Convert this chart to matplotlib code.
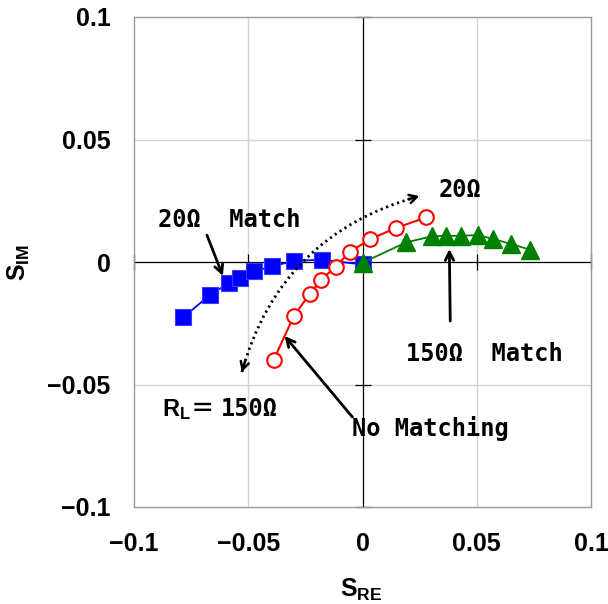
import numpy as np
import matplotlib
matplotlib.use('Agg')
import matplotlib.pyplot as plt
from matplotlib.path import Path
from matplotlib.patches import PathPatch

plt.rcParams['mathtext.fontset'] = 'custom'
plt.rcParams['mathtext.bf'] = 'Liberation Sans:bold'
plt.rcParams['mathtext.rm'] = 'Liberation Sans:bold'
plt.rcParams['mathtext.it'] = 'Liberation Sans:bold'

JP = ['DejaVu Sans Mono', 'Noto Sans CJK JP']

# ---- data ----
match20_re = [-0.0785, -0.0668, -0.0585, -0.0537, -0.0476, -0.0394, -0.0300, -0.0176, 0.0]
match20_im = [-0.0226, -0.0135, -0.0086, -0.0065, -0.0038, -0.0018, 0.0005, 0.0009, -0.0010]

nomatch_re = [-0.0389, -0.0300, -0.0231, -0.0180, -0.0118, -0.0054, 0.0035, 0.0147, 0.0278]
nomatch_im = [-0.0400, -0.0219, -0.0131, -0.0072, -0.0019, 0.0042, 0.0094, 0.0139, 0.0182]

match150_re = [0.0, 0.0191, 0.0304, 0.0365, 0.0431, 0.0504, 0.0572, 0.0652, 0.0734]
match150_im = [-0.0003, 0.0080, 0.0105, 0.0107, 0.0107, 0.0110, 0.0094, 0.0073, 0.0050]

ticks = [-0.1, -0.05, 0, 0.05, 0.1]
tick_labels = ['\u22120.1', '\u22120.05', '0', '0.05', '0.1']

# ---- figure ----
W, H = 608, 604
fig = plt.figure(figsize=(W / 100, H / 100), dpi=100)
ax = fig.add_axes([134 / W, 1 - 507 / H, 457 / W, 490 / H])
ax.set_xlim(-0.1, 0.1)
ax.set_ylim(-0.1, 0.1)

for s in ax.spines.values():
    s.set_color('#999999')
    s.set_linewidth(1.0)

for v in [-0.05, 0.05]:
    ax.axvline(v, color='#d4d4d4', lw=1.0, zorder=0)
    ax.axhline(v, color='#d4d4d4', lw=1.0, zorder=0)
ax.axhline(0, color='black', lw=0.9, zorder=1)
ax.axvline(0, color='black', lw=0.9, zorder=1)
# small cross ticks on the zero axes
ax.plot(ticks, [0] * len(ticks), ls='none', marker='|', ms=12, mew=0.9, color='black', clip_on=False, zorder=1)
ax.plot([0] * len(ticks), ticks, ls='none', marker='_', ms=12, mew=0.9, color='black', clip_on=False, zorder=1)

ax.set_xticks(ticks)
ax.set_xticklabels(tick_labels)
ax.set_yticks(ticks)
ax.set_yticklabels(tick_labels)
ax.tick_params(length=0, labelsize=18)
ax.tick_params(axis='x', pad=18)
ax.tick_params(axis='y', pad=17)
for lab in ax.get_xticklabels() + ax.get_yticklabels():
    lab.set_fontfamily('Liberation Sans')
    lab.set_fontweight('bold')

# ---- series ----
ax.plot(match20_re, match20_im, color='#0000ff', lw=1.3, marker='s', ms=12,
        mfc='#0000ff', mec='#3a3aff', mew=0.8, zorder=3)
ax.plot(nomatch_re, nomatch_im, color='#ff0000', lw=1.5, marker='o', ms=10.5,
        mfc='white', mec='#ff0000', mew=1.5, zorder=4)
ax.plot(match150_re, match150_im, color='#008000', lw=1.3, marker='^', ms=13,
        mfc='#008000', mec='#008000', zorder=5)

# ---- dotted double arrow arc ----
P0 = np.array([-0.0528, -0.0449])
C = np.array([-0.0359, 0.0114])
P1 = np.array([0.0249, 0.0269])
arc = Path([P0, C, P1], [Path.MOVETO, Path.CURVE3, Path.CURVE3])
ax.add_patch(PathPatch(arc, fill=False, lw=2.0, ls=(0, (0.8, 1.3)), color='black', zorder=6))

def bez(t):
    return (1 - t) ** 2 * P0 + 2 * (1 - t) * t * C + t ** 2 * P1

for tin, tend in [(0.04, 0.0), (0.96, 1.0)]:
    ax.annotate('', xy=bez(tend), xytext=bez(tin),
                arrowprops=dict(arrowstyle='->,head_length=0.55,head_width=0.3',
                                lw=1.8, color='black', shrinkA=0, shrinkB=0), zorder=6)

# ---- annotations ----
aprops = dict(arrowstyle='->,head_length=0.6,head_width=0.3', lw=2.0, color='black',
              shrinkA=0, shrinkB=0)
ax.annotate('', xy=(-0.0611, -0.0057), xytext=(-0.0681, 0.0110), arrowprops=aprops, zorder=7)
ax.annotate('', xy=(0.0380, 0.0053), xytext=(0.0384, -0.0241), arrowprops=aprops, zorder=7)
ax.annotate('', xy=(-0.0341, -0.0302), xytext=(-0.0044, -0.0633), arrowprops=aprops, zorder=7)

tkw = dict(family=JP, fontweight='bold', fontsize=17, ha='center', va='baseline', zorder=8)
ax.text(-0.0581, 0.0143, '20\u03a9  Match', **tkw)
ax.text(0.0428, 0.0265, '20\u03a9', **tkw)
ax.text(0.0533, -0.0404, '150\u03a9  Match', **tkw)
ax.text(0.0297, -0.0710, 'No Matching', **tkw)
ax.text(-0.0878, -0.0629, r'$\mathbf{R_L}$', fontsize=17, ha='left', va='baseline', zorder=8)
ax.text(-0.0699, -0.0629, '\uff1d', family=['Noto Sans CJK JP'], fontweight='bold',
        fontsize=17, ha='center', va='baseline', zorder=8)
ax.text(-0.0493, -0.0629, '150\u03a9', **tkw)

# ---- axis labels ----
fig.text(361 / W, 1 - 597 / H, r'$\mathbf{S_{RE}}$', fontsize=18, ha='center', va='baseline')
fig.text(19 / W, 1 - 262 / H, r'$\mathbf{S_{IM}}$', fontsize=18, ha='center', va='center', rotation=90)

fig.savefig('out.png', dpi=100)
